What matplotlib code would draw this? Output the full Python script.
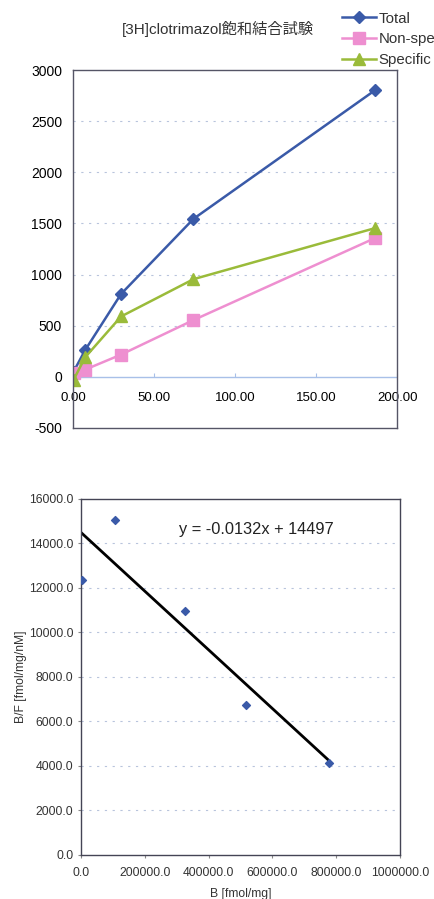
import matplotlib
matplotlib.use("Agg")
import matplotlib.pyplot as plt
from matplotlib.lines import Line2D

plt.rcParams['font.family'] = ['Liberation Sans', 'Noto Sans CJK JP', 'DejaVu Sans']
plt.rcParams['axes.unicode_minus'] = False

# Saturation binding data (top chart)
conc = [0.3, 7.4, 29.6, 74.3, 186.5]
total = [50, 260, 810, 1545, 2805]
non_spe = [40, 70, 217, 555, 1358]
specific = [-30, 190, 590, 955, 1455]

# Scatchard data (bottom chart)
bound = [4000, 106600, 326000, 516000, 777000]
b_over_f = [12360, 15060, 10950, 6760, 4130]
slope = -0.0132
intercept = 14497

BLUE = '#3a5aa8'
PINK = '#ee8fd0'
GREEN = '#9abb3a'
GRID = '#b8c4dc'

fig = plt.figure(figsize=(4.35, 8.99), dpi=100)

# ---- top chart ----
ax1 = fig.add_axes([0.168, 0.524, 0.745, 0.398])
ax1.plot(conc, total, color=BLUE, marker='D', markersize=6, lw=1.8, label='Total')
ax1.plot(conc, non_spe, color=PINK, marker='s', markersize=8, lw=1.8, label='Non-spe')
ax1.plot(conc, specific, color=GREEN, marker='^', markersize=8, lw=1.8, label='Specific')
ax1.set_xlim(0, 200)
ax1.set_ylim(-500, 3000)
ax1.set_yticks(range(-500, 3001, 500))
ax1.tick_params(axis='y', labelsize=10, length=0, pad=8)
ax1.set_xticks([])
for y in range(500, 3000, 500):
    ax1.axhline(y, color=GRID, lw=0.8, ls=(0, (2, 5)), zorder=0)
ax1.axhline(0, color='#a8c0e8', lw=1.0, zorder=0)
for s in ax1.spines.values():
    s.set_color('#555566')
    s.set_linewidth(1.0)

sec = ax1.secondary_xaxis(500 / 3500)
sec.set_xticks([0, 50, 100, 150, 200])
sec.set_xticklabels(['0.00', '50.00', '100.00', '150.00', '200.00'])
sec.tick_params(axis='x', direction='in', length=3, color='#a8c0e8', labelsize=9.5, pad=11)
sec.spines['bottom'].set_visible(False)

fig.text(0.5, 0.968, '[3H]clotrimazol飽和結合試験', ha='center', va='center',
         fontsize=11, color='#333333',
         family=['Liberation Sans', 'Noto Sans CJK JP'])

handles = [
    Line2D([], [], color=BLUE, marker='D', markersize=6, lw=1.8),
    Line2D([], [], color=PINK, marker='s', markersize=8, lw=1.8),
    Line2D([], [], color=GREEN, marker='^', markersize=8, lw=1.8),
]
fig.legend(handles, ['Total', 'Non-spe', 'Specific'], loc='upper left',
           bbox_to_anchor=(0.765, 0.997), frameon=False, fontsize=10.8,
           handlelength=2.3, handletextpad=0.15, labelspacing=0.45,
           borderaxespad=0.2, labelcolor='#333333')

# ---- bottom chart ----
ax2 = fig.add_axes([0.186, 0.049, 0.734, 0.396])
ax2.scatter(bound, b_over_f, marker='D', s=16, color=BLUE, zorder=3)
xfit = [min(bound), max(bound)]
ax2.plot(xfit, [slope * x + intercept for x in xfit], color='black', lw=2, zorder=2)
ax2.set_xlim(0, 1000000)
ax2.set_ylim(0, 16000)
ax2.set_xticks(range(0, 1000001, 200000))
ax2.set_xticklabels(['%.1f' % v for v in range(0, 1000001, 200000)])
ax2.set_yticks(range(0, 16001, 2000))
ax2.set_yticklabels(['%.1f' % v for v in range(0, 16001, 2000)])
ax2.tick_params(labelsize=8.7, length=2, color='#888888', labelcolor='#333333')
ax2.tick_params(axis='x', pad=7)
for y in range(2000, 16000, 2000):
    ax2.axhline(y, color=GRID, lw=0.8, ls=(0, (2, 5)), zorder=0)
for s in ax2.spines.values():
    s.set_color('#444455')
    s.set_linewidth(1.0)
ax2.set_xlabel('B [fmol/mg]', fontsize=8.7, color='#333333', labelpad=6)
ax2.set_ylabel('B/F [fmol/mg/nM]', fontsize=8.7, color='#333333', labelpad=1)
ax2.text(0.55, 0.915, 'y = -0.0132x + 14497', transform=ax2.transAxes,
         ha='center', va='center', fontsize=11.8, color='#222222')

fig.savefig('out.png', dpi=100, facecolor='white')
